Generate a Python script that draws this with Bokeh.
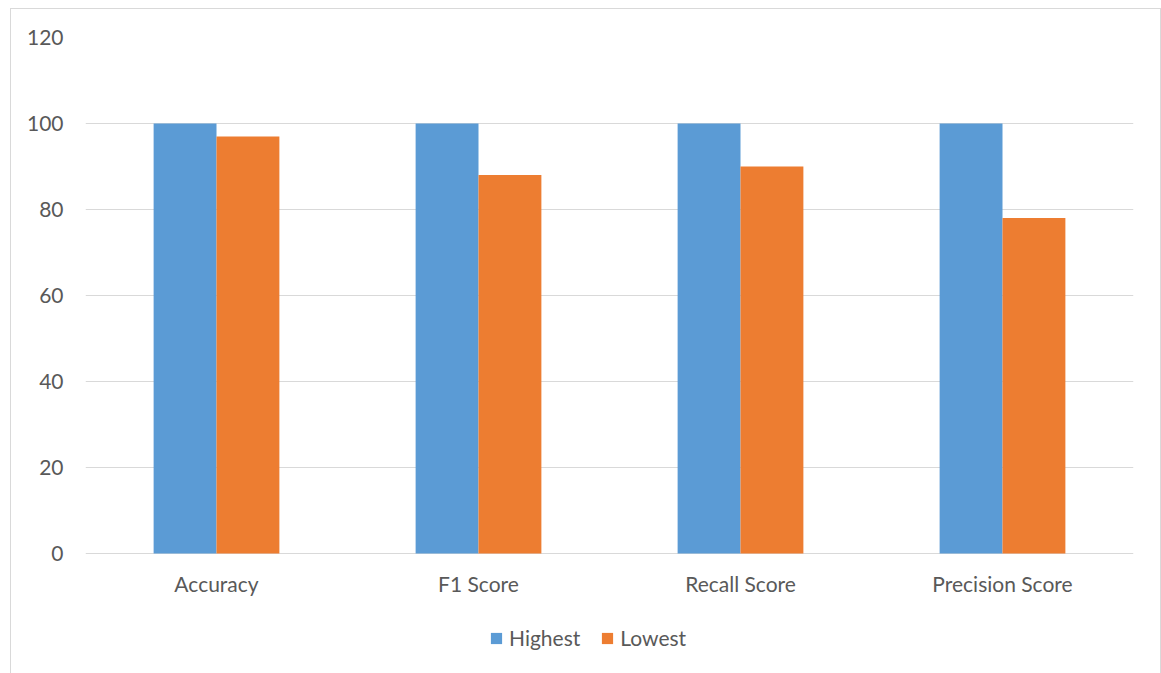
from bokeh.plotting import figure
from bokeh.models import FactorRange, Legend, LegendItem, ColumnDataSource, FixedTicker
from bokeh.transform import dodge
from bokeh.core.properties import value
from bokeh.embed import file_html
from bokeh.resources import INLINE

categories = ["Accuracy", "F1 Score", "Recall Score", "Precision Score"]
highest = [100, 100, 100, 100]
lowest = [97, 88, 90, 78]
y_ticks = [0, 20, 40, 60, 80, 100, 120]

src = ColumnDataSource(dict(cat=categories, highest=highest, lowest=lowest))

FONT = "Lato"
TXT = "#595959"

FRAME_H = 637
PX_PER_UNIT = 516 / 120.0
Y_START = 120 - FRAME_H / PX_PER_UNIT
LABEL_Y = -30 / PX_PER_UNIT

p = figure(x_range=FactorRange(*categories), y_range=(Y_START, 120),
           frame_width=1048, frame_height=FRAME_H, output_backend="svg", toolbar_location=None,
           min_border_left=74, min_border_right=27, min_border_top=28, min_border_bottom=0)
p.margin = (8, 0, 0, 10)
p.styles = {"border": "1px solid #D9D9D9"}

r1 = p.vbar(x=dodge("cat", -0.12, range=p.x_range), top="highest", width=0.24, source=src,
            fill_color="#5B9BD5", line_color=None)
r2 = p.vbar(x=dodge("cat", 0.12, range=p.x_range), top="lowest", width=0.24, source=src,
            fill_color="#ED7D31", line_color=None)

# category labels below the baseline
lab_src = ColumnDataSource(dict(cat=categories, y=[LABEL_Y] * len(categories)))
p.text(x="cat", y="y", text="cat", source=lab_src, text_align="center",
       text_baseline="middle", text_font=value(FONT), text_font_size="21px",
       text_color=TXT)

p.outline_line_color = None
p.background_fill_color = "white"
p.border_fill_color = "white"

p.xgrid.grid_line_color = None
p.ygrid.grid_line_color = "#D9D9D9"
p.ygrid.grid_line_width = 1
p.yaxis.ticker = FixedTicker(ticks=y_ticks)
p.xaxis.visible = False

ax = p.yaxis[0]
ax.axis_line_color = None
ax.major_tick_line_color = None
ax.minor_tick_line_color = None
ax.major_label_text_font = FONT
ax.major_label_text_font_size = "21px"
ax.major_label_text_color = TXT
ax.major_label_standoff = 16

p.x_range.range_padding = 0
p.x_range.group_padding = 0

legend = Legend(items=[LegendItem(label="Highest", renderers=[r1]),
                       LegendItem(label="Lowest", renderers=[r2])],
                orientation="horizontal", location=(404, 24))
legend.label_text_font = FONT
legend.label_text_font_size = "21px"
legend.label_text_color = TXT
legend.glyph_width = 14
legend.glyph_height = 14
legend.spacing = 20
legend.label_standoff = 6
legend.padding = 0
legend.margin = 0
legend.border_line_color = None
legend.background_fill_alpha = 0
p.add_layout(legend, "center")

open("out.html", "w").write(file_html(p, INLINE))
